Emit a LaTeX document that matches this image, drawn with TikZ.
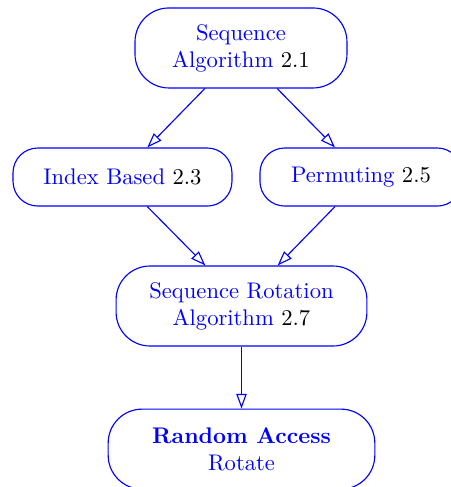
\documentclass[tikz,border=0pt]{standalone}
\usepackage{amsmath,amssymb}
\usepackage{tikz}
\usetikzlibrary{arrows.meta}

\tikzset{
  algbox/.style={draw=blue,text=blue,rounded corners=11pt,align=center,
    inner ysep=2pt,minimum height=25.7pt,line width=0.5pt},
  twoline/.style={minimum height=35.4pt,rounded corners=15pt},
  dep/.style={draw=blue,line width=0.5pt,-{Triangle[open,length=6.5pt,width=4.6pt]}}
}

\begin{document}
\begin{tikzpicture}

\useasboundingbox (0,0) rectangle (7.014,-7.574);

% algorithm boxes
\node[algbox,twoline,minimum width=93.8pt] (seq) at (3.748,-0.746)
  {Sequence\\Algorithm \textcolor{black}{2.1}};
\node[algbox,minimum width=96.9pt] (idx) at (1.905,-2.753)
  {Index Based \textcolor{black}{2.3}};
\node[algbox,minimum width=89.4pt] (perm) at (5.614,-2.753)
  {Permuting \textcolor{black}{2.5}};
\node[algbox,twoline,minimum width=111pt] (rot) at (3.756,-4.759)
  {Sequence Rotation\\Algorithm \textcolor{black}{2.7}};
\node[algbox,twoline,minimum width=118pt] (rand) at (3.756,-6.985)
  {\textbf{Random Access}\\Rotate};

% dependencies
\draw[dep] ([xshift=-16pt]seq.south) -- ([xshift=11pt]idx.north);
\draw[dep] ([xshift=16pt]seq.south) -- ([xshift=-11.5pt]perm.north);
\draw[dep] ([xshift=11pt]idx.south) -- ([xshift=-16pt]rot.north);
\draw[dep] ([xshift=-11.5pt]perm.south) -- ([xshift=16pt]rot.north);
\draw[dep] (rot.south) -- (rand.north);

\end{tikzpicture}
\end{document}
